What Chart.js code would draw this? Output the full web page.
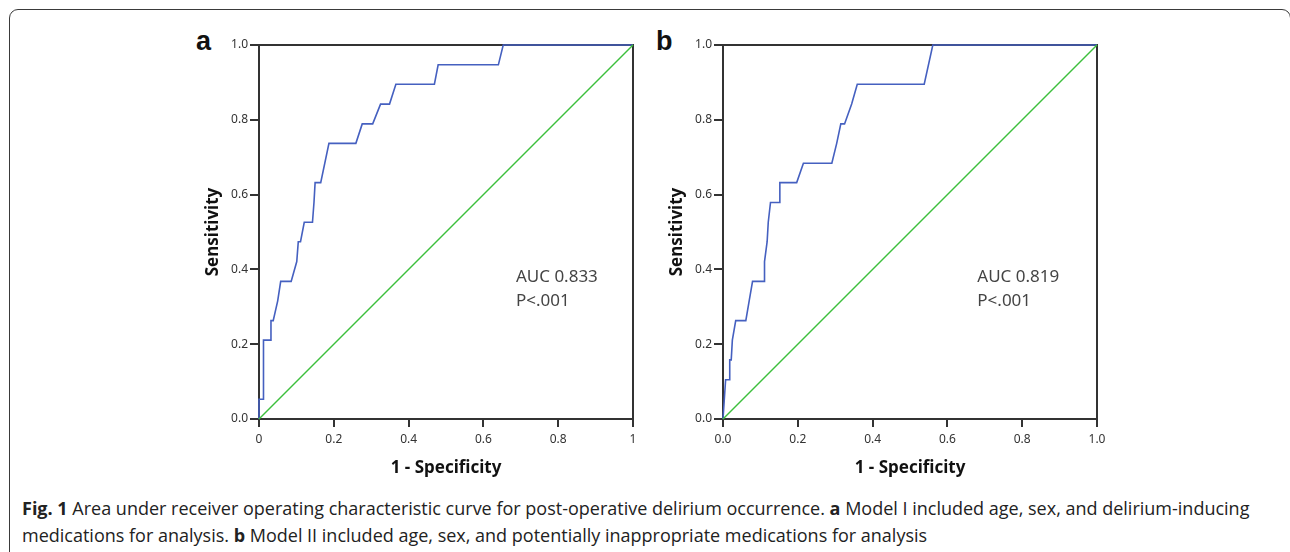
<!DOCTYPE html>
<html lang="en">
<head>
  <meta charset="UTF-8">
  <title>ROC curves - post-operative delirium</title>
  <script src="https://cdn.jsdelivr.net/npm/chart.js"></script>
  <style>
    body {
      margin: 0;
      width: 1290px;
      height: 552px;
      background: #fff;
      position: relative;
      overflow: hidden;
      font-family: "Open Sans", sans-serif;
    }

    .frame {
      position: absolute;
      left: 9px;
      top: 9px;
      width: 1280px;
      height: 580px;
      border: 1.5px solid #3a3a3a;
      border-radius: 9px;
    }

    canvas {
      position: absolute;
    }

    .panel-label {
      position: absolute;
      font-family: "Liberation Sans", Arial, sans-serif;
      font-weight: bold;
      font-size: 27px;
      line-height: 27px;
      color: #111;
    }

    .caption {
      position: absolute;
      left: 22px;
      top: 495px;
      font-size: 18px;
      line-height: 27px;
      color: #222;
      white-space: nowrap;
    }
  </style>
</head>

<body>
  <div class="frame"></div>
  <div class="panel-label" style="left:196px; top:28px;">a</div>
  <div class="panel-label" style="left:656px; top:28px;">b</div>
  <canvas id="chartA" width="460" height="470" style="left:195px; top:20px;"></canvas>
  <canvas id="chartB" width="460" height="470" style="left:659px; top:20px;"></canvas>
  <div class="caption">
    <b>Fig. 1</b> Area under receiver operating characteristic curve for post-operative delirium occurrence. <b>a</b> Model I included age, sex, and delirium-inducing<br>
    medications for analysis. <b>b</b> Model II included age, sex, and potentially inappropriate medications for analysis
  </div>

  <script>
    // Model I (panel a): 1 - specificity and sensitivity
    const aFpr = [0, 0, 0.012, 0.012, 0.032, 0.032, 0.038, 0.050, 0.058, 0.086,
      0.101, 0.105, 0.111, 0.121, 0.143, 0.147, 0.150, 0.165, 0.187, 0.259,
      0.276, 0.304, 0.325, 0.349, 0.366, 0.469, 0.479, 0.640, 0.653, 1.0];
    const aTpr = [0, 0.053, 0.053, 0.211, 0.211, 0.263, 0.263, 0.316, 0.368, 0.368,
      0.421, 0.474, 0.474, 0.526, 0.526, 0.579, 0.632, 0.632, 0.737, 0.737,
      0.789, 0.789, 0.842, 0.842, 0.895, 0.895, 0.947, 0.947, 1.0, 1.0];

    // Model II (panel b)
    const bFpr = [0, 0.007, 0.017, 0.018, 0.022, 0.025, 0.034, 0.061, 0.070, 0.079,
      0.110, 0.111, 0.118, 0.121, 0.127, 0.150, 0.152, 0.197, 0.215, 0.291,
      0.304, 0.315, 0.325, 0.344, 0.359, 0.538, 0.561, 1.0];
    const bTpr = [0, 0.105, 0.105, 0.158, 0.158, 0.211, 0.263, 0.263, 0.316, 0.368,
      0.368, 0.421, 0.474, 0.526, 0.579, 0.579, 0.632, 0.632, 0.684, 0.684,
      0.737, 0.789, 0.789, 0.842, 0.895, 0.895, 1.0, 1.0];

    // reference (chance) line
    const refLine = [0, 1];

    const yTickLabels = ["0.0", "0.2", "0.4", "0.6", "0.8", "1.0"];
    const aXTickLabels = ["0", "0.2", "0.4", "0.6", "0.8", "1"];
    const bXTickLabels = ["0.0", "0.2", "0.4", "0.6", "0.8", "1.0"];

    const aNote = ["AUC 0.833", "P<.001"];
    const bNote = ["AUC 0.819", "P<.001"];

    const axisColor = "#333";
    const tickFont = { family: "'Noto Sans', sans-serif", size: 12 };
    const titleFont = { family: "'Noto Sans', sans-serif", size: 17, weight: "bold" };

    // closes the box (top + right edge) and writes the AUC note
    const boxAndNote = {
      id: "boxAndNote",
      beforeDatasetsDraw(chart) {
        const { ctx, chartArea } = chart;
        ctx.save();
        ctx.strokeStyle = axisColor;
        ctx.lineWidth = 2;
        ctx.beginPath();
        ctx.moveTo(chartArea.left, chartArea.top);
        ctx.lineTo(chartArea.right, chartArea.top);
        ctx.lineTo(chartArea.right, chartArea.bottom);
        ctx.stroke();
        ctx.restore();
      },
      afterDatasetsDraw(chart, args, opts) {
        const { ctx, scales } = chart;
        const x = scales.x.getPixelForValue(opts.x);
        const y = scales.y.getPixelForValue(opts.y);
        ctx.save();
        ctx.fillStyle = "#444";
        ctx.font = "17px 'Noto Sans', sans-serif";
        ctx.textBaseline = "middle";
        opts.lines.forEach((line, i) => ctx.fillText(line, x, y + i * 24));
        ctx.restore();
      }
    };

    function makeRoc(canvasId, fpr, tpr, xLabels, note, noteX) {
      const points = fpr.map((v, i) => ({ x: v, y: tpr[i] }));
      const chance = refLine.map(v => ({ x: v, y: v }));

      return new Chart(document.getElementById(canvasId), {
        type: "scatter",
        data: {
          datasets: [
            {
              data: chance,
              showLine: true,
              borderColor: "#3dbf3d",
              borderWidth: 1.5,
              pointRadius: 0,
              clip: false
            },
            {
              data: points,
              showLine: true,
              borderColor: "#4560c0",
              borderWidth: 1.6,
              pointRadius: 0,
              clip: false
            }
          ]
        },
        options: {
          responsive: false,
          animation: false,
          devicePixelRatio: 1,
          layout: { padding: { left: 0, top: 25, right: 22, bottom: 0 } },
          plugins: {
            legend: { display: false },
            tooltip: { enabled: false },
            boxAndNote: { x: noteX, y: 0.38, lines: note }
          },
          scales: {
            x: {
              type: "linear",
              min: 0,
              max: 1,
              afterFit(scale) { scale.height = 71; },
              border: { color: axisColor, width: 2 },
              grid: { drawOnChartArea: false, color: axisColor, lineWidth: 2, tickLength: 8 },
              ticks: {
                stepSize: 0.2,
                autoSkip: false,
                maxRotation: 0,
                color: "#333",
                font: tickFont,
                padding: 5,
                callback: (v, i) => xLabels[i]
              },
              title: {
                display: true,
                text: "1 - Specificity",
                color: "#111",
                font: titleFont,
                padding: { top: 0, bottom: 12 }
              }
            },
            y: {
              type: "linear",
              min: 0,
              max: 1,
              afterFit(scale) { scale.width = 64; },
              border: { color: axisColor, width: 2 },
              grid: { drawOnChartArea: false, color: axisColor, lineWidth: 2, tickLength: 9 },
              ticks: {
                stepSize: 0.2,
                autoSkip: false,
                color: "#333",
                font: tickFont,
                padding: 2,
                callback: (v, i) => yTickLabels[i]
              },
              title: {
                display: true,
                text: "Sensitivity",
                color: "#111",
                font: titleFont,
                padding: { top: 8, bottom: 0 }
              }
            }
          }
        },
        plugins: [boxAndNote]
      });
    }

    makeRoc("chartA", aFpr, aTpr, aXTickLabels, aNote, 0.687);
    makeRoc("chartB", bFpr, bTpr, bXTickLabels, bNote, 0.68);
  </script>
</body>
</html>
